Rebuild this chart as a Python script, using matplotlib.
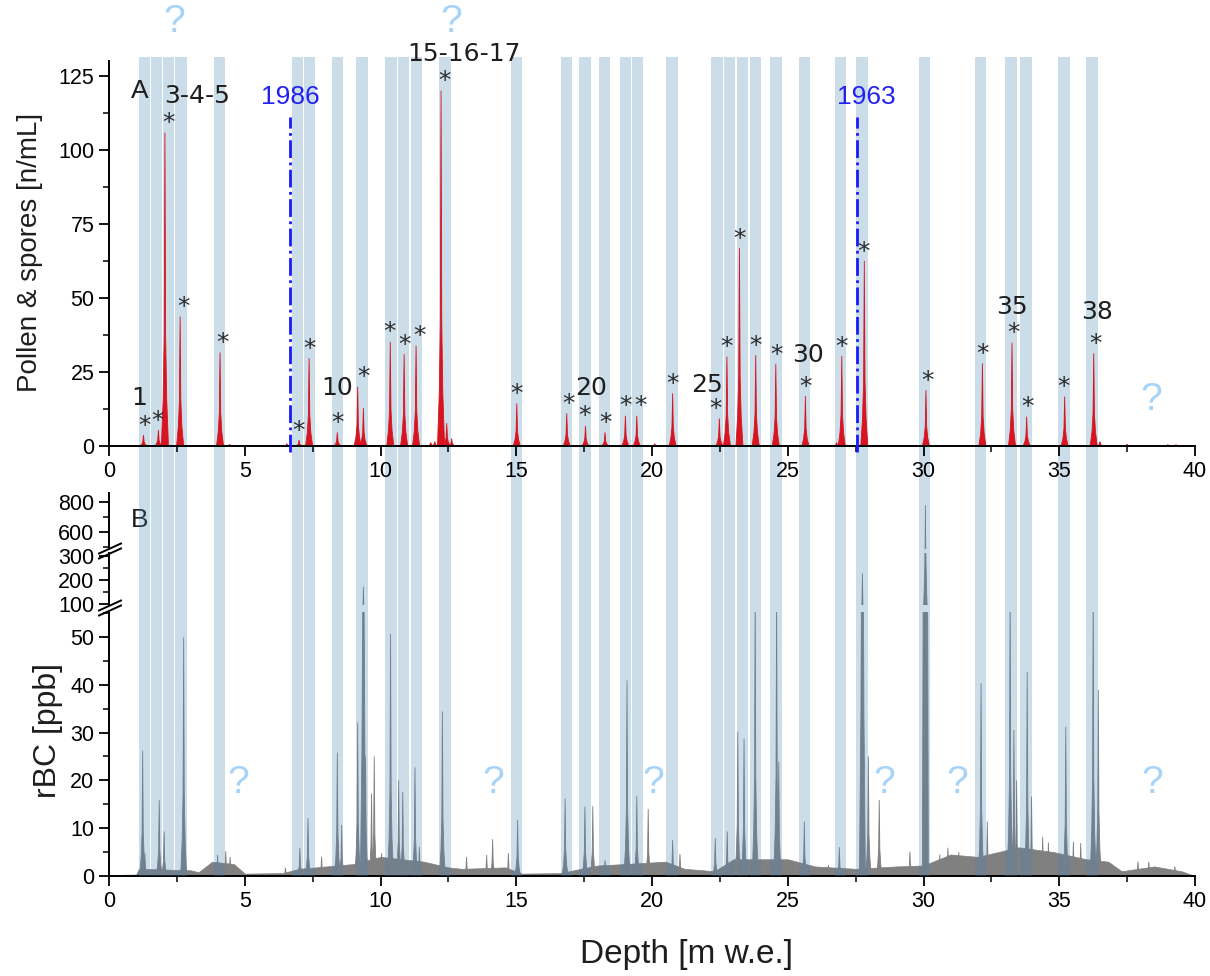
import matplotlib
matplotlib.use("Agg")
import matplotlib.pyplot as plt
import matplotlib.transforms as mtransforms
from matplotlib.patches import Rectangle
from matplotlib.lines import Line2D
from matplotlib.ticker import MultipleLocator

plt.rcParams['font.family'] = ['Liberation Sans', 'DejaVu Sans']

# ---- data ----
# shaded layers (depth of band centres, m w.e.)
band_centers = [1.30, 1.76, 2.19, 2.65, 4.07, 6.95, 7.38, 8.42, 9.32, 10.38,
                10.85, 11.33, 12.38, 15.02, 16.86, 17.53, 18.26, 19.03, 19.47,
                20.73, 22.39, 22.85, 23.33, 23.82, 24.56, 25.61, 26.95, 27.73,
                30.03, 32.11, 33.22, 33.77, 35.17, 36.20]
band_width = 0.42

# pollen & spores peaks [n/mL]
pollen_depth = [1.27, 1.82, 2.06, 2.62, 4.09, 4.45, 6.55, 7.00, 7.37, 8.41,
                9.16, 9.37, 10.36, 10.87, 11.31, 11.85, 12.00, 12.23, 12.44,
                12.62, 15.02, 16.86, 17.55, 18.27, 19.02, 19.44, 20.10, 20.76,
                22.48, 22.76, 23.22, 23.82, 24.56, 25.65, 26.80, 26.99, 27.82,
                30.09, 32.17, 33.26, 33.80, 35.20, 36.27, 36.50, 37.50, 39.00,
                39.30]
pollen_value = [3.7, 5.4, 105.8, 43.7, 31.6, 0.6, 0.8, 2.0, 29.6, 4.6,
                20.0, 12.8, 35.2, 31.0, 33.9, 1.2, 1.5, 120.0, 7.7,
                2.5, 14.4, 11.0, 6.8, 4.6, 10.2, 10.2, 0.8, 17.8,
                9.3, 30.2, 66.8, 30.7, 27.7, 16.9, 1.2, 30.4, 62.5,
                18.9, 27.9, 34.9, 9.9, 16.7, 31.3, 1.5, 0.6, 0.5,
                0.5]

# asterisks (marked pollen layers)
star_depth = [1.30, 1.78, 2.19, 2.73, 4.19, 6.99, 7.38, 8.41, 9.36, 10.33,
              10.87, 11.42, 12.35, 15.02, 16.92, 17.51, 18.28, 19.03, 19.58,
              20.77, 22.35, 22.73, 23.24, 23.83, 24.57, 25.66, 26.99, 27.78,
              30.14, 32.19, 33.30, 33.82, 35.16, 36.32]

peak_labels = ["1", "3-4-5", "10", "15-16-17", "20", "25", "30", "35", "38"]
peak_label_depth = [1.10, 3.26, 8.40, 13.08, 17.76, 22.04, 25.74, 33.27, 36.39]
peak_label_value = [16.2, 118.1, 19.5, 132.4, 19.5, 20.6, 30.8, 47.0, 45.1]

year_labels = ["1986", "1963"]
year_depth = [6.67, 27.54]
year_label_depth = [6.67, 27.88]

# refractory black carbon: background level and spikes [ppb]
rbc_base_depth = [0, 1.0, 1.1, 3.0, 3.3, 3.8, 4.6, 5.0, 6.4, 7.0, 8.0, 9.0,
                  10.0, 11.6, 12.5, 13.0, 14.6, 15.2, 16.6, 18.0, 19.0, 20.5,
                  21.2, 22.3, 23.0, 25.0, 26.0, 27.5, 29.0, 30.0, 31.0, 32.0,
                  33.5, 34.8, 36.0, 36.8, 37.3, 38.5, 39.5, 40.0]
rbc_base_value = [0.2, 0.3, 1.5, 1.2, 0.8, 3.0, 2.5, 0.5, 0.6, 1.5, 2.0, 2.5,
                  4.0, 3.0, 1.8, 1.5, 1.8, 0.5, 0.6, 2.2, 2.5, 3.0,
                  1.5, 1.0, 3.5, 3.5, 2.0, 1.5, 2.0, 2.2, 4.5, 4.0,
                  6.0, 5.0, 3.5, 3.0, 1.0, 2.0, 1.0, 0.0]
rbc_spike_depth = [1.24, 1.32, 1.85, 2.03, 2.75, 4.00, 4.30, 4.46, 6.50, 7.03,
                   7.33, 7.83, 8.41, 8.57, 9.16, 9.37, 9.45, 9.67, 9.77, 10.04,
                   10.37, 10.67, 10.82, 11.27, 11.43, 12.28, 13.17, 13.91, 14.13,
                   14.71, 15.05, 16.80, 17.53, 17.82, 18.27, 19.08, 19.44, 19.86,
                   20.76, 21.03, 22.33, 22.77, 23.16, 23.39, 23.80, 24.16, 24.59,
                   24.67, 25.61, 26.50, 26.90, 27.75, 27.97, 28.37, 29.50, 30.07,
                   30.60, 30.90, 31.30, 32.12, 32.35, 33.19, 33.33, 33.43, 33.82,
                   33.98, 34.39, 34.60, 35.24, 35.52, 35.79, 36.25, 36.44, 37.90,
                   38.30, 39.26]
rbc_spike_value = [26.2, 4.8, 15.9, 9.3, 49.9, 4.4, 5.2, 4.0, 1.7, 5.9,
                   12.1, 4.0, 25.8, 10.7, 32.1, 172.0, 25.0, 17.3, 25.0, 4.8,
                   50.6, 20.0, 17.6, 22.7, 6.1, 34.4, 4.0, 4.4, 7.7,
                   4.8, 11.7, 16.2, 14.5, 14.6, 3.3, 40.9, 16.7, 14.0,
                   7.5, 4.6, 7.9, 9.3, 30.2, 28.7, 60.0, 3.3, 60.0,
                   23.9, 11.4, 2.3, 6.0, 228.0, 25.0, 15.9, 5.1, 780.0,
                   4.5, 5.9, 5.0, 40.3, 11.4, 60.0, 30.5, 20.0, 42.7,
                   16.6, 8.2, 7.0, 31.2, 7.2, 6.9, 60.0, 38.9, 3.0,
                   3.0, 2.0]

# question marks (unidentified layers)
q_top_depth = [2.39, 12.6]
q_pollen_depth = [38.4]
q_rbc_depth = [4.75, 14.14, 20.04, 28.55, 31.23, 38.42]

RED = '#d7141f'
GREY = '#808080'
QBLUE = '#a6d3f8'
W, H = 1210, 976

# spike outline: offsets (fraction of half-width) and height fractions
SPIKE_DX = [-1, -0.5, -0.2, 0, 0.2, 0.5, 1]
SPIKE_DY = [0, 0.15, 0.35, 1, 0.35, 0.15, 0]


def fx(px):
    return px / W


def fy(py):
    return 1 - py / H


def draw_spikes(ax, depths, values, color, half=0.12):
    for d, v in zip(depths, values):
        xs = [d + k * half for k in SPIKE_DX]
        ys = [k * v for k in SPIKE_DY]
        ax.fill(xs, ys, facecolor=color, edgecolor=color, lw=0.6, zorder=2)


def style_axis(ax):
    for s in ['top', 'right']:
        ax.spines[s].set_visible(False)
    for s in ['left', 'bottom']:
        ax.spines[s].set_linewidth(1.4)
    ax.tick_params(which='major', direction='out', length=7, width=1.3, labelsize=15.5)
    ax.tick_params(which='minor', direction='out', length=4, width=1.1)
    ax.set_facecolor('none')


fig = plt.figure(figsize=(W / 100, H / 100), dpi=100)

# ---- panel A: pollen ----
axA = fig.add_axes([fx(109), fy(446), fx(1086), (446 - 61) / H])
axA.set_zorder(2)
style_axis(axA)
draw_spikes(axA, pollen_depth, pollen_value, RED, half=0.13)
axA.set_xlim(0, 40)
axA.set_ylim(0, 130)
axA.xaxis.set_major_locator(MultipleLocator(5))
axA.xaxis.set_minor_locator(MultipleLocator(2.5))
axA.yaxis.set_major_locator(MultipleLocator(25))
axA.yaxis.set_minor_locator(MultipleLocator(12.5))

for d in star_depth:
    near = [v for p, v in zip(pollen_depth, pollen_value) if abs(p - d) < 0.22]
    axA.text(d, max(near) + 0.8, '*', ha='center', va='baseline',
             fontsize=18, color='#2b2b2b', family='DejaVu Sans', zorder=4)
for t, d, v in zip(peak_labels, peak_label_depth, peak_label_value):
    axA.text(d, v, t, ha='center', va='center', fontsize=18,
             color='#1e1e1e', family='DejaVu Sans', clip_on=False, zorder=4)
for t, d, dl in zip(year_labels, year_depth, year_label_depth):
    axA.plot([d, d], [-2, 111], color='#1a1aff', lw=2, ls='-.', clip_on=False, zorder=3)
    axA.text(dl, 118, t, ha='center', va='center', fontsize=19, color='#2222f0', zorder=4)
axA.text(1.13, 120, 'A', ha='center', va='center', fontsize=19, color='#1e1e1e')
for d in q_top_depth:
    axA.text(d, 143, '?', ha='center', va='center', fontsize=28,
             color=QBLUE, clip_on=False)
for d in q_pollen_depth:
    axA.text(d, 15.5, '?', ha='center', va='center', fontsize=28, color=QBLUE)

# ---- panel B: rBC, broken y axis (three segments) ----
axB3 = fig.add_axes([fx(109), fy(549), fx(1086), 56 / H])
axB2 = fig.add_axes([fx(109), fy(605), fx(1086), 52 / H])
axB1 = fig.add_axes([fx(109), fy(876), fx(1086), 264 / H])
for ax, lim in [(axB3, (487, 860)), (axB2, (95.8, 312.5)), (axB1, (0, 55.2))]:
    style_axis(ax)
    ax.set_zorder(0)
    ax.fill_between(rbc_base_depth, rbc_base_value, color=GREY, lw=0.5, zorder=1)
    draw_spikes(ax, rbc_spike_depth, rbc_spike_value, GREY, half=0.11)
    ax.set_xlim(0, 40)
    ax.set_ylim(*lim)
for ax in (axB3, axB2):
    ax.spines['bottom'].set_visible(False)
    ax.tick_params(axis='x', which='both', bottom=False, labelbottom=False)
axB3.yaxis.set_major_locator(MultipleLocator(200))
axB3.yaxis.set_minor_locator(MultipleLocator(100))
axB2.yaxis.set_major_locator(MultipleLocator(100))
axB2.yaxis.set_minor_locator(MultipleLocator(50))
axB1.yaxis.set_major_locator(MultipleLocator(10))
axB1.yaxis.set_minor_locator(MultipleLocator(5))
axB1.xaxis.set_major_locator(MultipleLocator(5))
axB1.xaxis.set_minor_locator(MultipleLocator(2.5))
axB3.text(1.14, 682, 'B', ha='center', va='center', fontsize=19, color='#1e1e1e')
for d in q_rbc_depth:
    axB1.text(d, 19.5, '?', ha='center', va='center', fontsize=28, color=QBLUE)

# break marks on the left spine
for yb in (551, 608):
    for dy in (-2.5, 2.5):
        fig.add_artist(Line2D([fx(99), fx(121)], [fy(yb + dy + 5), fy(yb + dy - 5)],
                              color='black', lw=1.4, zorder=5))

# shaded layers spanning both panels (drawn over the rBC, under the pollen)
trans = mtransforms.blended_transform_factory(axA.transData, fig.transFigure)
for c in band_centers:
    fig.add_artist(Rectangle((c - band_width / 2, fy(876)), band_width, fy(57) - fy(876),
                             transform=trans, facecolor='steelblue', alpha=0.27,
                             lw=0, zorder=1))

# axis titles
fig.text(fx(30), fy(252), 'Pollen & spores [n/mL]', rotation=90, ha='center',
         va='center', fontsize=20, color='#1e1e1e')
fig.text(fx(48), fy(730), 'rBC [ppb]', rotation=90, ha='center',
         va='center', fontsize=23, color='#1e1e1e')
fig.text(fx(687), fy(955), 'Depth [m w.e.]', ha='center', va='center',
         fontsize=24, color='#1e1e1e')

fig.savefig('out.png', dpi=100)
